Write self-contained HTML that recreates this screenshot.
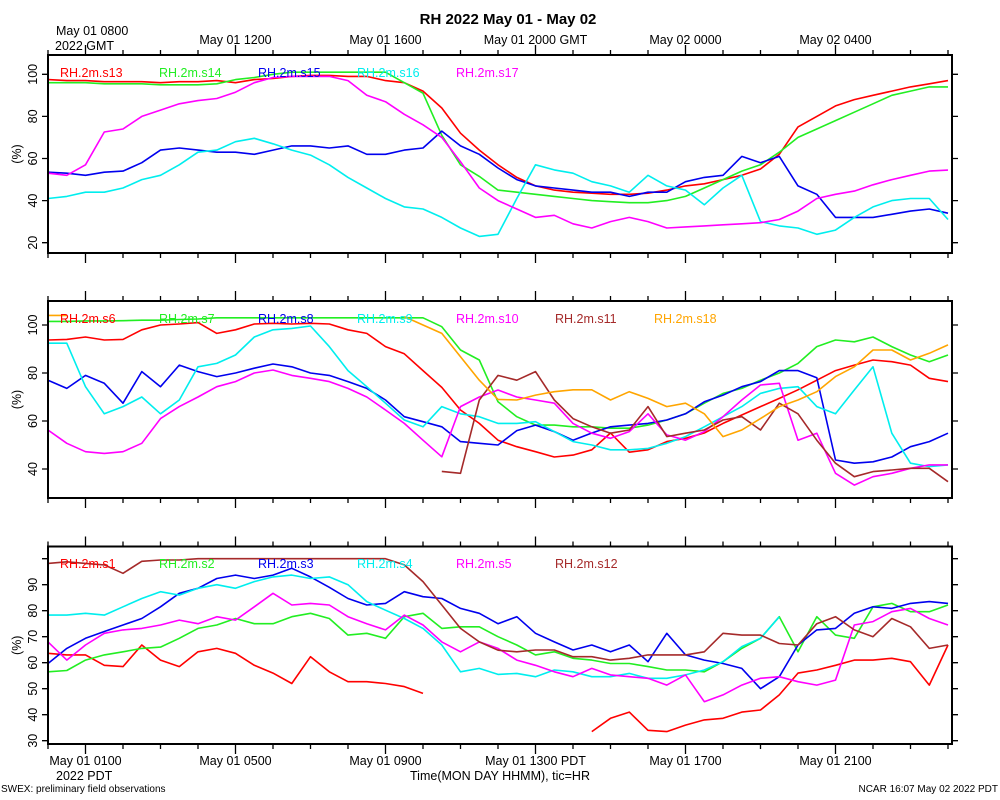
<!DOCTYPE html>
<html><head><meta charset="utf-8"><title>RH 2022 May 01 - May 02</title>
<style>
html,body{margin:0;padding:0;background:#fff;}
svg{display:block;font-family:"Liberation Sans",Arial,sans-serif;}
</style></head>
<body>
<svg id="chart" width="1000" height="800" viewBox="0 0 1000 800" xmlns="http://www.w3.org/2000/svg">
<text x="508" y="24" text-anchor="middle" font-size="15" font-weight="bold">RH 2022 May 01 - May 02</text>
<text x="56" y="35" font-size="12.5">May 01 0800</text>
<text x="55" y="50" font-size="12.5">2022 GMT</text>
<text x="56" y="780" font-size="12.5">2022 PDT</text>
<text x="500" y="780" text-anchor="middle" font-size="12.5">Time(MON DAY HHMM), tic=HR</text>
<text x="1" y="792" font-size="10">SWEX: preliminary field observations</text>
<text x="998" y="792" text-anchor="end" font-size="10">NCAR 16:07 May 02 2022 PDT</text>
</svg>
<script>
// time (hours since May 01 0000 PDT)
const hours = [0,0.5,1,1.5,2,2.5,3,3.5,4,4.5,5,5.5,6,6.5,7,7.5,8,8.5,9,9.5,10,10.5,11,11.5,12,12.5,13,13.5,14,14.5,15,15.5,16,16.5,17,17.5,18,18.5,19,19.5,20,20.5,21,21.5,22,22.5,23,23.5,24];
const gmtTickHours = [5,9,13,17,21];
const gmtTickLabels = ["May 01 1200","May 01 1600","May 01 2000 GMT","May 02 0000","May 02 0400"];
const pdtTickHours = [1,5,9,13,17,21];
const pdtTickLabels = ["May 01 0100","May 01 0500","May 01 0900","May 01 1300 PDT","May 01 1700","May 01 2100"];

// Panel 1
const p1Names = ["RH.2m.s13","RH.2m.s14","RH.2m.s15","RH.2m.s16","RH.2m.s17"];
const p1s13 = [97.5,97,97,96.5,96.5,96.5,96,96.5,96.5,97,96,97.5,98,99,99.5,99.5,99,99,97,96,92,84,72,64,57,51,47,45,44,43.5,43,43,43.5,45,47,48,50,52,55,62,75,80,85,88,90,92,94,95.5,97];
const p1s14 = [96,96,96,95.5,95.5,95.5,95,95,95,95.5,97.5,98.5,100,101,101,101,101,101,101,96,91,71,57,51.5,45,44,43,42,41,40,39.5,39,39,40,42,46,50,54,57,63,70,74,78,82,86,90,92,94,94];
const p1s15 = [53.5,53,52,53.5,54,58,64,65,64,63,63,62,64,66,66,65,66,62,62,64,65,73,66,62,55.5,50,47,46,45,44,44,42,44,44,49,51,52,61,58,61,47,43,32,32,32,33.5,35,36,34];
const p1s16 = [41,42,44,44,46,50,52,57,63,64,68,69.6,67,64,61.6,57,51,46,41,37,36,32,27,23,24,41,57,54.6,53,49,47,44,52,47,45,38,46,52,30,28,27,24,26,32,37,40,41,41,31];
const p1s17 = [53,52,57,72.6,74,80,83,86,87.5,88.5,91.5,96,98.5,99,99,99,97,90,87,81,76,70,58.5,46,40,36,32,33,29,27,30,32,30,27,27.5,28,28.5,29,29.5,31,35,41,43,44.5,47.5,50,52,54,54.5];
const p1Ticks = [20,40,60,80,100];

// Panel 2
const p2Names = ["RH.2m.s6","RH.2m.s7","RH.2m.s8","RH.2m.s9","RH.2m.s10","RH.2m.s11","RH.2m.s18"];
const p2s6 = [93.75,94,95,93.75,94,98,100,100.4,101,96.5,98,100.4,100.7,100.4,100.7,100.4,98,96.5,91,88,81,74,64.6,59,52,49.3,47.2,45,45.8,48,55,47,48,51.4,52.8,55,59,62.5,66,69.4,73,77,81,83.3,85.4,84.7,83.3,77.8,76.4];
const p2s7 = [101.5,101.5,101.7,101.7,101.8,102,102,102.3,102.5,103,103,103,103,103,103,103,103,103,103,103,103,99.3,89.6,85.4,68,61.8,58.3,58.3,57.6,57.6,57,57,58.3,60.4,63,67.4,71.5,73.6,77,80,84,91,93.75,93,95,91,87.5,84.7,87.5];
const p2s8 = [77,73.6,79,75.7,67.4,80.6,74.3,83.3,80.6,78.5,80,82,83.75,82.6,80,79,76.4,73.6,68.75,61.8,59.7,57.6,51.4,50.7,50,56,58.3,55.6,52,55,57.6,58.3,59,60.4,63,68,70.8,74.3,76.4,81,81,78,43.75,42.4,43,45,49.3,51.4,54.9];
const p2s9 = [92.4,92.4,74.3,63,66,70,63,68.75,82.6,84,87.5,95,98,98.6,99.6,91,81,74.3,67.4,60.4,57.6,66,63,61.8,59,59,59.7,55.6,51.4,50,48,48,48.6,50.7,53.5,57.6,61.8,66,71.5,73.6,74.3,66,63,72.9,82.6,54.9,42.4,41,41.7];
const p2s10 = [56.25,50.7,47.2,46.5,47.2,50.7,61,66,70,74.3,76.4,80,81.25,79,77.8,76.4,73.6,70,64.6,59,52,45.1,66,70,72.9,70,68.75,67.4,59,54.9,52.8,55.6,63,54.2,52,55.6,61.8,68.75,75,75.7,52,54.9,38.2,33.3,36.8,38.2,40.3,41.7,41.7];
const p2s11 = [null,null,null,null,null,null,null,null,null,null,null,null,null,null,null,null,null,null,null,null,null,39,38.2,68.75,79,77,80.6,68.75,61,57.6,54.9,56.25,66,53.5,54.9,56.25,60.4,61.8,56.25,67.4,63,52,42.4,36.8,38.9,39.6,40.3,40.3,34.7];
const p2s18 = [104,104,null,null,null,null,null,null,null,null,null,null,null,null,null,null,null,null,null,103.5,100,96.5,86.8,77,69,68.75,70.8,72.2,73,73,68.75,72.2,69.4,66,67.4,63,53.5,56.25,61,66,68.75,72.2,78.5,82.6,89.6,89.6,85.4,88.2,91.7];
const p2Ticks = [40,60,80,100];

// Panel 3
const p3Names = ["RH.2m.s1","RH.2m.s2","RH.2m.s3","RH.2m.s4","RH.2m.s5","RH.2m.s12"];
const p3s1 = [63.6,63,63,59,58.5,66.8,61,58.5,64.2,65.5,63.6,59,56,52,62.3,56.5,52.7,52.7,52,50.8,48.2,null,null,null,null,null,null,null,null,33.5,38.6,41,34,33.5,36,38,38.6,41,41.8,47.6,56,57.2,59,61,61,61.7,60.4,51.4,66.8];
const p3s2 = [56.5,57,61,63,64.2,65.5,66,69.4,73.2,74.5,77,75,75,77.7,79,77,70.6,71.3,69.4,77.7,79,73.2,73.8,73.8,70,66.8,63,64.2,61.7,61,59.7,59.7,58.5,57.2,57.2,56.5,60.4,65.5,69.4,77.7,64.2,77.7,70.6,69.4,81.5,82.8,79.6,79.6,82.2];
const p3s3 = [59.7,65.5,69.4,72,74.5,77,81.5,86.7,88.6,92.4,93.7,92.4,93.7,96.3,93,89,84.7,82.2,82.8,87.3,85.4,84.7,80.9,79,75,77.7,71.3,68,64.9,66.8,64.2,66.8,60.4,71.3,63,61,59.7,57.8,50,54.6,66.8,72.6,73.2,79,81.5,80.9,82.8,83.5,82.8];
const p3s4 = [78.3,78.3,79,78.3,81.5,84.7,87.3,86,88.6,90,88.6,91.2,93,93.7,92.4,93,90,83.5,80.2,77,73.2,66.8,56.5,57.8,55.5,55.9,54.6,57.2,56.5,54.6,54.6,55.9,54,54,55.3,57.2,60.4,66.2,69.4,77.7,null,null,null,null,null,null,null,null,null];
const p3s5 = [68,61,66.8,71.3,72.6,73.2,74.5,76.4,75,77.7,76.4,81.5,86.7,82.2,82.8,82.2,77.7,75,72.6,78.3,74.5,68,64.2,68,65.5,61,59,56.5,54.6,57.8,55.3,54.6,54,51.4,55.3,45,47.6,51.4,54,54.6,52.7,51.4,53.3,74.5,75.8,79.6,80.9,77,74.5];
const p3s12 = [98.2,98.8,98.2,97.6,94.4,99,99.5,99.5,100,100,100,100,100,100,100,100,100,100,100,97.6,91.2,82.2,73.2,68,64.8,64.2,64.9,64.9,62.3,62.3,61,61.7,63,63,63,64.2,71.3,70.6,70.6,67.4,66.8,75,77.7,72.6,70,77,73.8,65.5,66.8];
const p3Ticks = [30,40,50,60,70,80,90,100];
const p3Labeled = [30,40,50,60,70,80,90];

const NS = "http://www.w3.org/2000/svg";
const svg = document.getElementById("chart");
const X0 = 48, X1 = 952, HPX = 37.5;
function xs(h){ return X0 + h*HPX; }
function mk(tag, attrs, parent){
  const e = document.createElementNS(NS, tag);
  for (const k in attrs) e.setAttribute(k, attrs[k]);
  (parent||svg).appendChild(e);
  return e;
}
const colors = {red:"#ff0000",green:"#22ee22",blue:"#0000ee",cyan:"#00eeee",mag:"#ff00ff",brown:"#a52a2a",orange:"#ffa500"};

const panels = [
  {id:"top", top:55, bottom:253, v0:100, y0:74.3, ppu:2.105, ticks:p1Ticks, labeled:p1Ticks, names:p1Names,
   series:[p1s13,p1s14,p1s15,p1s16,p1s17], cols:[colors.red,colors.green,colors.blue,colors.cyan,colors.mag], legY:77},
  {id:"middle", top:301, bottom:498, v0:100, y0:325, ppu:2.4, ticks:p2Ticks, labeled:p2Ticks, names:p2Names,
   series:[p2s6,p2s7,p2s8,p2s9,p2s10,p2s11,p2s18], cols:[colors.red,colors.green,colors.blue,colors.cyan,colors.mag,colors.brown,colors.orange], legY:323},
  {id:"bottom", top:546.5, bottom:744, v0:30, y0:740.7, ppu:2.6, ticks:p3Ticks, labeled:p3Labeled, names:p3Names,
   series:[p3s1,p3s2,p3s3,p3s4,p3s5,p3s12], cols:[colors.red,colors.green,colors.blue,colors.cyan,colors.mag,colors.brown], legY:568}
];

panels.forEach((p, pi) => {
  const ys = v => p.y0 - (v - p.v0)*p.ppu;
  const g = mk("g", {});
  
  
  const cid = "clip" + pi;
  const cp = mk("clipPath", {id: cid}, g);
  mk("rect", {x: X0, y: p.top, width: X1 - X0, height: p.bottom - p.top}, cp);

  // series
  p.series.forEach((vals, si) => {
    let d = "", pen = false;
    vals.forEach((v, i) => {
      if (v === null) { pen = false; return; }
      d += (pen ? "L" : "M") + xs(hours[i]).toFixed(1) + " " + ys(v).toFixed(1);
      pen = true;
    });
    const path = mk("path", {d: d, fill: "none", stroke: p.cols[si], "stroke-width": 1.6, "stroke-linejoin": "round", "clip-path": "url(#" + cid + ")"}, g);
    
    
  });

  // legend labels
  p.names.forEach((n, si) => {
    const t = mk("text", {x: 60 + 99*si, y: p.legY, "font-size": 12.5, fill: p.cols[si]}, g);
    t.textContent = n;
    
    
  });

  // frame
  const fr = mk("rect", {x: X0, y: p.top, width: X1 - X0, height: p.bottom - p.top, fill: "none", stroke: "#000", "stroke-width": 2}, g);
  
  

  // x ticks (top and bottom, outward)
  let td = "";
  for (let h = 0; h <= 24; h++) {
    const major = pdtTickHours.indexOf(h) >= 0;
    const len = major ? 10 : 5;
    const x = xs(h);
    td += "M" + x + " " + p.top + "V" + (p.top - len);
    td += "M" + x + " " + p.bottom + "V" + (p.bottom + len);
  }
  // y ticks (left and right, outward)
  p.ticks.forEach(v => {
    const y = ys(v);
    td += "M" + X0 + " " + y + "H" + (X0 - 6);
    td += "M" + X1 + " " + y + "H" + (X1 + 6);
  });
  const tk = mk("path", {d: td, stroke: "#000", "stroke-width": 1.3, fill: "none"}, g);
  
  

  // y tick labels (rotated)
  p.labeled.forEach(v => {
    const y = ys(v);
    const t = mk("text", {x: 0, y: 0, "font-size": 12.5, "text-anchor": "middle", transform: "translate(37," + y + ") rotate(-90)"}, g);
    t.textContent = String(v);
    
    
  });
  const yt = mk("text", {x: 0, y: 0, "font-size": 12.5, "text-anchor": "middle", transform: "translate(21," + ((p.top + p.bottom)/2) + ") rotate(-90)"}, g);
  yt.textContent = "(%)";
  
  
});

// top GMT labels
gmtTickHours.forEach((h, i) => {
  const t = mk("text", {x: xs(h), y: 44, "font-size": 12.5, "text-anchor": "middle"});
  t.textContent = gmtTickLabels[i];
  
  
});
// bottom PDT labels
pdtTickHours.forEach((h, i) => {
  const t = mk("text", {x: xs(h), y: 765, "font-size": 12.5, "text-anchor": "middle"});
  t.textContent = pdtTickLabels[i];
  
  
});
</script>
</body></html>
